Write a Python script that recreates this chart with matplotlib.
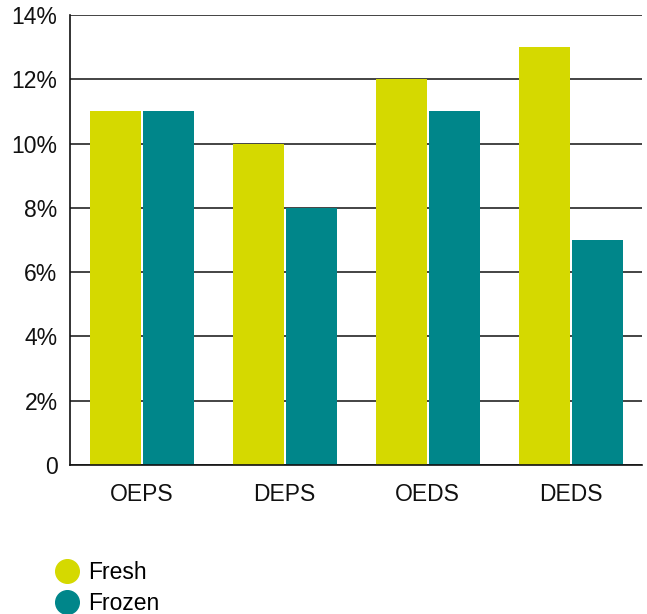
import matplotlib
matplotlib.use("Agg")
import matplotlib.pyplot as plt
import numpy as np
from matplotlib.lines import Line2D

categories = ["OEPS", "DEPS", "OEDS", "DEDS"]
fresh = [11, 10, 12, 13]
frozen = [11, 8, 11, 7]
series_names = ["Fresh", "Frozen"]
colors = ["#D5D900", "#00868A"]
yticks = [0, 2, 4, 6, 8, 10, 12, 14]
ytick_labels = ["0", "2%", "4%", "6%", "8%", "10%", "12%", "14%"]

plt.rcParams['font.family'] = ['Liberation Sans', 'DejaVu Sans']

fig = plt.figure(figsize=(6.47, 6.14), dpi=100)
ax = fig.add_axes([70/647, 1-465/614, 572/647, 450/614])

x = np.arange(len(categories))
w = 51/143
gap = 2/143
ax.bar(x - w/2 - gap/2, fresh, width=w, color=colors[0], zorder=2)
ax.bar(x + w/2 + gap/2, frozen, width=w, color=colors[1], zorder=2)

ax.set_xlim(-0.5, len(categories) - 0.5)
ax.set_ylim(0, 14)
ax.set_yticks(yticks)
ax.set_yticklabels(ytick_labels)
ax.set_xticks(x)
ax.set_xticklabels(categories)
ax.yaxis.grid(True, color="#111111", linewidth=1.1, zorder=1)
ax.set_axisbelow(True)
for s in ["top", "right"]:
    ax.spines[s].set_visible(False)
for s in ["left", "bottom"]:
    ax.spines[s].set_color("#111111")
    ax.spines[s].set_linewidth(1.2)
ax.tick_params(axis="both", length=0, labelsize=16.5, colors="#111111")
ax.tick_params(axis="y", pad=9)
ax.tick_params(axis="x", pad=13)

handles = [Line2D([], [], marker="o", linestyle="none", markersize=17,
                  markerfacecolor=c, markeredgecolor=c) for c in colors]
fig.legend(handles, series_names, loc="upper left", bbox_to_anchor=(56/647, 1-561/614),
           frameon=False, fontsize=16.5, handlelength=1.0, handletextpad=0.4,
           labelspacing=0.35, borderpad=0, borderaxespad=0)

fig.savefig("out.png", dpi=100)
